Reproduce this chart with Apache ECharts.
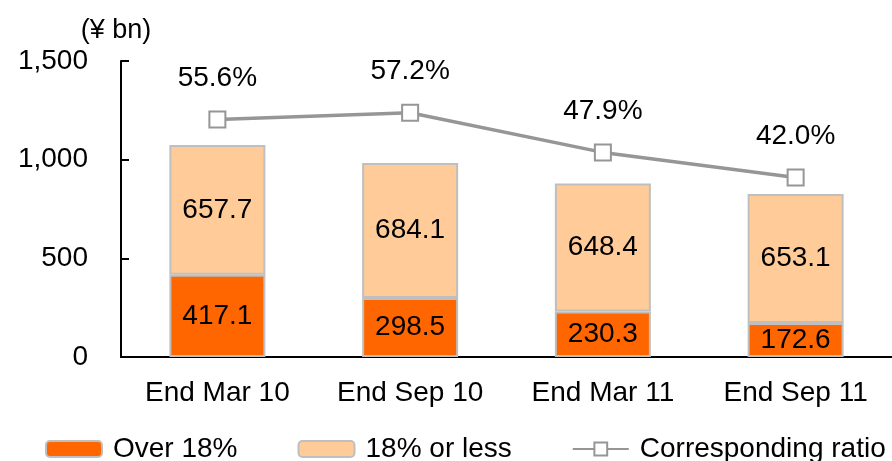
<!DOCTYPE html>
<html>
<head>
<meta charset="utf-8">
<script src="https://cdn.jsdelivr.net/npm/echarts@6/dist/echarts.min.js"></script>
<style>
  html, body { margin: 0; padding: 0; background: #fff; }
  #chart { width: 892px; height: 461px; }
</style>
</head>
<body>
<div id="chart"></div>
<script>
// data
var periods = ['End Mar 10', 'End Sep 10', 'End Mar 11', 'End Sep 11'];
var over18 = [417.1, 298.5, 230.3, 172.6];
var under18 = [657.7, 684.1, 648.4, 653.1];
var ratio = [55.6, 57.2, 47.9, 42.0];
var yTicks = [0, 500, 1000, 1500];

var font = 'Liberation Sans';
var chart = echarts.init(document.getElementById('chart'));

chart.setOption({
    animation: false,
    textStyle: { fontFamily: font, color: '#000' },
    grid: { left: 121, top: 61, width: 776, height: 296 },
    legend: {
        left: 40,
        top: 430,
        itemWidth: 56,
        itemHeight: 16,
        itemGap: 60,
        textStyle: { fontFamily: font, fontSize: 28, color: '#000', padding: [0, 0, 0, 6] },
        data: ['Over 18%', '18% or less', 'Corresponding ratio']
    },
    xAxis: {
        type: 'category',
        data: periods,
        axisLine: { lineStyle: { color: '#000', width: 2 } },
        axisTick: { inside: true, length: 8, lineStyle: { color: '#000', width: 2 } },
        axisLabel: { fontFamily: font, fontSize: 28, color: '#000', margin: 22 }
    },
    yAxis: [{
        type: 'value',
        min: 0,
        max: 1500,
        interval: 500,
        name: '(¥ bn)',
        nameLocation: 'end',
        nameGap: 17,
        nameTextStyle: { fontFamily: font, fontSize: 27, color: '#000', align: 'center', padding: [0, 10, 0, 0] },
        axisLine: { show: true, lineStyle: { color: '#000', width: 2 } },
        axisTick: { show: true, inside: true, length: 8, lineStyle: { color: '#000', width: 2 } },
        splitLine: { show: false },
        axisLabel: {
            fontFamily: font, fontSize: 28, color: '#000', margin: 33,
            formatter: function (v) {
                return yTicks.indexOf(v) >= 0 ? v.toLocaleString('en-US') : '';
            }
        }
    }, {
        type: 'value',
        min: 0,
        max: 69.3,
        show: false,
        splitLine: { show: false }
    }],
    series: [{
        name: 'Over 18%',
        type: 'bar',
        stack: 'total',
        barWidth: 96,
        data: over18,
        itemStyle: { color: '#FF6600', borderColor: '#BFBFBF', borderWidth: 2 },
        label: { show: true, position: 'inside', fontFamily: font, fontSize: 28, color: '#000' }
    }, {
        name: '18% or less',
        type: 'bar',
        stack: 'total',
        barWidth: 96,
        data: under18,
        itemStyle: { color: '#FFCC99', borderColor: '#BFBFBF', borderWidth: 2 },
        label: { show: true, position: 'inside', fontFamily: font, fontSize: 28, color: '#000' }
    }, {
        name: 'Corresponding ratio',
        type: 'line',
        yAxisIndex: 1,
        data: ratio,
        symbol: 'rect',
        symbolSize: 16,
        lineStyle: { color: '#969696', width: 3.5 },
        itemStyle: { color: '#fff', borderColor: '#969696', borderWidth: 2 },
        label: {
            show: true, position: 'top', distance: 18,
            fontFamily: font, fontSize: 28, color: '#000',
            formatter: function (p) { return p.value.toFixed(1) + '%'; }
        }
    }]
});
</script>
</body>
</html>
